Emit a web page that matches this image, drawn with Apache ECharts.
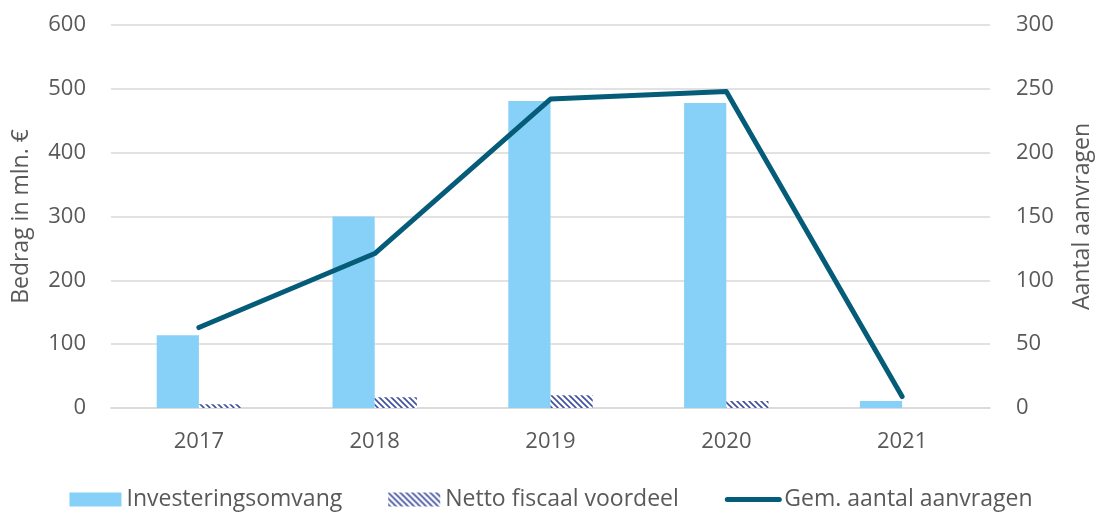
<!DOCTYPE html>
<html>
<head>
<meta charset="utf-8">
<script src="https://cdn.jsdelivr.net/npm/echarts@6/dist/echarts.min.js"></script>
<style>
  html, body { margin: 0; padding: 0; background: #fff; }
  #main { width: 1102px; height: 512px; }
</style>
</head>
<body>
<div id="main"></div>
<script>
const jaren = ['2017', '2018', '2019', '2020', '2021'];
const investeringsomvang = [114, 300, 481, 478, 11];
const nettoFiscaalVoordeel = [6, 17, 20, 11, 0];
const aantalAanvragen = [63, 121, 242, 248, 9];

// gestreept patroon voor netto fiscaal voordeel
function maakStreep() {
  const c = document.createElement('canvas');
  c.width = 6;
  c.height = 6;
  const ctx = c.getContext('2d');
  ctx.fillStyle = '#ffffff';
  ctx.fillRect(0, 0, 6, 6);
  ctx.strokeStyle = '#3f4f9f';
  ctx.lineWidth = 1.6;
  ctx.beginPath();
  ctx.moveTo(0, 0); ctx.lineTo(6, 6);
  ctx.moveTo(-3, 3); ctx.lineTo(3, 9);
  ctx.moveTo(3, -3); ctx.lineTo(9, 3);
  ctx.stroke();
  return c;
}

const font = '"Open Sans", "Noto Sans", sans-serif';
const grijs = '#595959';
const lijnKleur = '#045c78';

const chart = echarts.init(document.getElementById('main'));
const option = {
  animation: false,
  textStyle: { fontFamily: font },
  grid: { left: 111, right: 111, top: 25, bottom: 104 },
  legend: {
    top: 483,
    left: 'center',
    itemGap: 46,
    itemWidth: 52,
    itemHeight: 14,
    textStyle: { fontSize: 23, color: grijs, fontFamily: font },
    data: [
      { name: 'Investeringsomvang', icon: 'rect' },
      { name: 'Netto fiscaal voordeel', icon: 'rect' },
      { name: 'Gem. aantal aanvragen', itemStyle: { opacity: 0 }, lineStyle: { width: 5, cap: 'round' } }
    ]
  },
  xAxis: {
    type: 'category',
    data: jaren,
    axisLine: { lineStyle: { color: '#d9d9d9', width: 1.5 } },
    axisTick: { show: false },
    axisLabel: { color: grijs, fontSize: 22, margin: 23 }
  },
  yAxis: [
    {
      type: 'value',
      min: 0,
      max: 600,
      interval: 100,
      name: 'Bedrag in mln. €',
      nameLocation: 'middle',
      nameGap: 78,
      nameTextStyle: { color: grijs, fontSize: 23 },
      axisLabel: { color: grijs, fontSize: 22, margin: 25 },
      splitLine: { lineStyle: { color: '#d9d9d9', width: 1.5 } }
    },
    {
      type: 'value',
      min: 0,
      max: 300,
      interval: 50,
      name: 'Aantal aanvragen',
      nameLocation: 'middle',
      nameGap: 81,
      nameTextStyle: { color: grijs, fontSize: 23 },
      axisLabel: { color: grijs, fontSize: 22, margin: 26 },
      splitLine: { show: false }
    }
  ],
  series: [
    {
      name: 'Investeringsomvang',
      type: 'bar',
      data: investeringsomvang,
      barWidth: '24%',
      barGap: '0%',
      itemStyle: { color: '#87d0f7' }
    },
    {
      name: 'Netto fiscaal voordeel',
      type: 'bar',
      data: nettoFiscaalVoordeel,
      barWidth: '24%',
      itemStyle: { color: { image: maakStreep(), repeat: 'repeat' } }
    },
    {
      name: 'Gem. aantal aanvragen',
      type: 'line',
      yAxisIndex: 1,
      data: aantalAanvragen,
      symbol: 'none',
      lineStyle: { color: lijnKleur, width: 5, cap: 'round', join: 'round' },
      itemStyle: { color: lijnKleur }
    }
  ]
};
chart.setOption(option);
</script>
</body>
</html>
